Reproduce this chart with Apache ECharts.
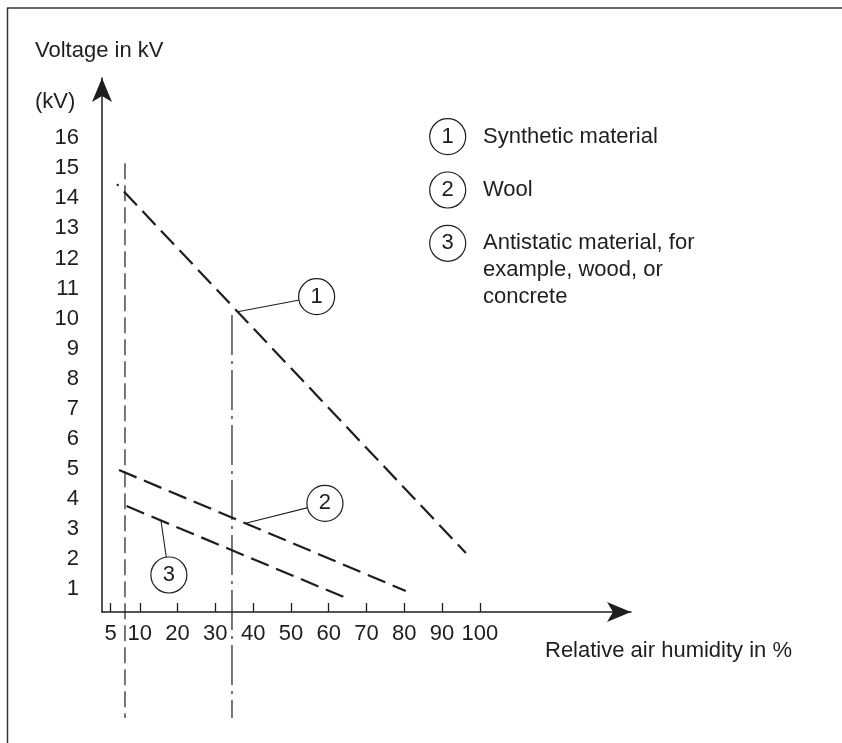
<!DOCTYPE html>
<html>
<head>
<meta charset="utf-8">
<script src="https://cdn.jsdelivr.net/npm/echarts@6/dist/echarts.min.js"></script>
<style>
  html, body { margin: 0; padding: 0; background: #fff; }
  #chart { width: 842px; height: 743px; }
</style>
</head>
<body>
<div id="chart"></div>
<script>
// Electrostatic charge voltage versus relative air humidity
const FONT = 'Liberation Sans, Arial, Helvetica, sans-serif';
const FS = 22;
const INK = '#1e1e1e';

// x axis ticks (relative air humidity, %)
const xTickValues = [2.3, 10, 20, 30, 40, 50, 60, 70, 80, 90, 100];
const xTickLabels = ['5', '10', '20', '30', '40', '50', '60', '70', '80', '90', '100'];
// y axis ticks (kV)
const yTickValues = [1, 2, 3, 4, 5, 6, 7, 8, 9, 10, 11, 12, 13, 14, 15, 16];

// curves: [humidity %, voltage kV]
const synthetic = [[3.97, 14.47], [96.3, 2.21]];
const wool = [[4.5, 4.97], [80.4, 0.95]];
const antistatic = [[6.5, 3.77], [64.5, 0.72]];

// vertical reference lines
const refLow = [[6.08, 15.17], [6.08, -3.27]];
const refMid = [[34.4, 10.12], [34.4, -3.27]];

// numbered callouts: [x, y, number]
const callouts = [[56.8, 10.73, '1'], [59.0, 3.86, '2'], [17.7, 1.48, '3']];
// leader lines from each curve to its callout
const leader1 = [[35.9, 10.23], [56.8, 10.73]];
const leader2 = [[38.0, 3.20], [59.0, 3.86]];
const leader3 = [[15.6, 3.29], [17.7, 1.48]];

// key entries
const keyNumbers = ['1', '2', '3'];
const keyTexts = ['Synthetic material', 'Wool', 'Antistatic material, for\nexample, wood, or\nconcrete'];

const chart = echarts.init(document.getElementById('chart'), null, { renderer: 'canvas' });

function lineSeries(data, style, z) {
  return {
    type: 'line', data: data, symbol: 'none', clip: false, silent: true,
    z: z || 2, lineStyle: Object.assign({ color: INK, opacity: 1 }, style)
  };
}

const keyGraphics = [];
keyNumbers.forEach((n, i) => {
  const cy = 136.7 + i * 53.3;
  keyGraphics.push({
    type: 'circle', shape: { cx: 447.7, cy: cy, r: 18 },
    style: { fill: '#fff', stroke: INK, lineWidth: 1.2 }
  });
  keyGraphics.push({
    type: 'text', x: 447.7, y: cy,
    style: { text: n, font: FS + 'px ' + FONT, fill: INK, align: 'center', verticalAlign: 'middle' }
  });
  keyGraphics.push({
    type: 'text', x: 483, y: cy - 13.5,
    style: { text: keyTexts[i], font: FS + 'px ' + FONT, fill: INK, align: 'left', verticalAlign: 'top', lineHeight: 26.7 }
  });
});

const option = {
  animation: false,
  backgroundColor: '#fff',
  grid: { left: 102, top: 78, width: 529, height: 534 },
  xAxis: {
    type: 'value', min: 0, max: 140,
    axisLine: { show: true, symbol: ['none', 'arrow'], symbolSize: [15, 24], lineStyle: { color: INK, width: 1.5 } },
    axisTick: { show: true, inside: true, length: 9, customValues: xTickValues, lineStyle: { color: INK, width: 1.3 } },
    axisLabel: {
      show: true, customValues: xTickValues, margin: 11, color: INK, fontSize: FS, fontFamily: FONT,
      formatter: v => xTickLabels[xTickValues.indexOf(v)]
    },
    splitLine: { show: false }
  },
  yAxis: {
    type: 'value', min: 0.25, max: 18,
    axisLine: { show: true, symbol: ['none', 'arrow'], symbolSize: [15, 24], lineStyle: { color: INK, width: 1.5 } },
    axisTick: { show: false },
    axisLabel: { show: true, customValues: yTickValues, margin: 23, color: INK, fontSize: FS, fontFamily: FONT },
    splitLine: { show: false }
  },
  graphic: [
    { type: 'line', shape: { x1: 7, y1: 8, x2: 842, y2: 8 }, style: { stroke: '#333', lineWidth: 1.5 } },
    { type: 'line', shape: { x1: 7.5, y1: 8, x2: 7.5, y2: 743 }, style: { stroke: '#333', lineWidth: 1.5 } },
    { type: 'text', x: 35, y: 51, style: { text: 'Voltage in kV', font: FS + 'px ' + FONT, fill: INK, verticalAlign: 'middle' } },
    { type: 'text', x: 35, y: 102, style: { text: '(kV)', font: FS + 'px ' + FONT, fill: INK, verticalAlign: 'middle' } },
    { type: 'text', x: 545, y: 651, style: { text: 'Relative air humidity in %', font: FS + 'px ' + FONT, fill: INK, verticalAlign: 'middle' } }
  ].concat(keyGraphics),
  series: [
    lineSeries(refLow, { width: 1.2, type: [16, 6] }),
    lineSeries(refMid, { width: 1.2, type: [40, 6, 3, 6] }),
    lineSeries(synthetic, { width: 2.2, type: [19, 8], dashOffset: 17 }, 3),
    lineSeries(wool, { width: 2.2, type: [19, 8] }, 3),
    lineSeries(antistatic, { width: 2.2, type: [19, 8] }, 3),
    lineSeries(leader1, { width: 1.1, type: 'solid' }, 4),
    lineSeries(leader2, { width: 1.1, type: 'solid' }, 4),
    lineSeries(leader3, { width: 1.1, type: 'solid' }, 4),
    {
      type: 'scatter', data: callouts, symbol: 'circle', symbolSize: 36, z: 5, silent: true,
      itemStyle: { color: '#fff', borderColor: INK, borderWidth: 1.2, opacity: 1 },
      label: { show: true, position: 'inside', formatter: p => p.data[2], color: INK, fontSize: FS, fontFamily: FONT }
    }
  ]
};

chart.setOption(option);
</script>
</body>
</html>
